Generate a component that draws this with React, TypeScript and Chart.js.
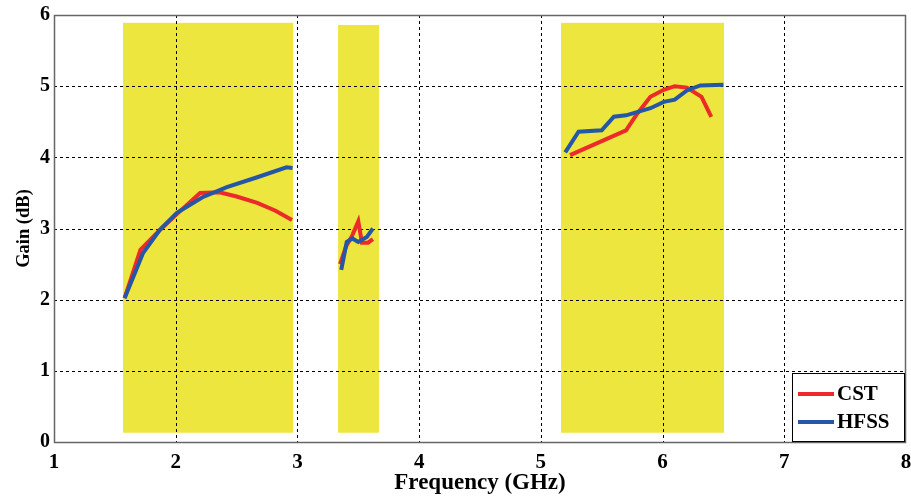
import React, { useEffect, useRef } from "react";
import { Chart, registerables } from "chart.js";
Chart.register(...registerables);

// Frequency (GHz) / Gain (dB) per band
const cstBand1F = [1.58, 1.71, 1.87, 2.02, 2.2, 2.36, 2.5, 2.67, 2.82, 2.955];
const cstBand1G = [2.02, 2.7, 2.98, 3.22, 3.5, 3.51, 3.45, 3.36, 3.25, 3.12];
const hfssBand1F = [1.58, 1.73, 1.87, 2.01, 2.22, 2.42, 2.67, 2.91, 2.96];
const hfssBand1G = [2.02, 2.65, 2.98, 3.22, 3.44, 3.58, 3.72, 3.86, 3.85];

const cstBand2F = [3.35, 3.4, 3.45, 3.5, 3.53, 3.58, 3.62];
const cstBand2G = [2.5, 2.75, 2.9, 3.1, 2.8, 2.8, 2.85];
const hfssBand2F = [3.36, 3.405, 3.45, 3.5, 3.57, 3.62];
const hfssBand2G = [2.42, 2.81, 2.86, 2.81, 2.88, 3.0];

const cstBand3F = [5.24, 5.7, 5.79, 5.9, 6.01, 6.1, 6.2, 6.32, 6.4];
const cstBand3G = [4.03, 4.38, 4.61, 4.85, 4.95, 5.0, 4.98, 4.85, 4.57];
const hfssBand3F = [5.2, 5.31, 5.5, 5.6, 5.7, 5.9, 6.01, 6.1, 6.2, 6.31, 6.5];
const hfssBand3G = [4.07, 4.36, 4.38, 4.57, 4.59, 4.69, 4.78, 4.81, 4.94, 5.01, 5.02];

// Highlighted bands: [start GHz, end GHz, top dB, bottom dB]
const bandStart = [1.567, 3.334, 5.166];
const bandEnd = [2.964, 3.67, 6.505];
const bandTop = [5.89, 5.86, 5.89];
const bandBottom = [0.13, 0.13, 0.13];

const seriesLabels = ["CST", "HFSS"];
const seriesColors = ["#ec2a2a", "#2457a5"];
const xTicks = [1, 2, 3, 4, 5, 6, 7, 8];
const yTicks = [0, 1, 2, 3, 4, 5, 6];

const FONT = "'Liberation Serif', 'Times New Roman', serif";

function joinBands(fs: number[][], gs: number[][]) {
  const out: { x: number; y: number | null }[] = [];
  fs.forEach((f, i) => {
    if (i > 0) out.push({ x: (f[0] + fs[i - 1][fs[i - 1].length - 1]) / 2, y: null });
    f.forEach((x, j) => out.push({ x, y: gs[i][j] }));
  });
  return out;
}

const bandsPlugin = {
  id: "bands",
  beforeDraw(chart: any) {
    const { ctx, scales } = chart;
    const xs = scales.x, ys = scales.y;
    ctx.save();
    ctx.fillStyle = "#ede63f";
    bandStart.forEach((s, i) => {
      const x0 = xs.getPixelForValue(s);
      const x1 = xs.getPixelForValue(bandEnd[i]);
      const y0 = ys.getPixelForValue(bandTop[i]);
      const y1 = ys.getPixelForValue(bandBottom[i]);
      ctx.fillRect(x0, y0, x1 - x0, y1 - y0);
    });
    ctx.restore();
  },
  beforeDatasetsDraw(chart: any) {
    const { ctx, scales, chartArea: a } = chart;
    ctx.save();
    ctx.strokeStyle = "#000";
    ctx.lineWidth = 1;
    ctx.setLineDash([3, 3]);
    xTicks.forEach((v) => {
      const x = Math.round(scales.x.getPixelForValue(v)) + 0.5;
      if (x <= a.left + 2 || x >= a.right - 2) return;
      ctx.beginPath();
      ctx.moveTo(x, a.top);
      ctx.lineTo(x, a.bottom);
      ctx.stroke();
    });
    yTicks.forEach((v) => {
      const y = Math.round(scales.y.getPixelForValue(v)) + 0.5;
      if (y <= a.top + 2 || y >= a.bottom - 2) return;
      ctx.beginPath();
      ctx.moveTo(a.left, y);
      ctx.lineTo(a.right, y);
      ctx.stroke();
    });
    ctx.restore();
  },
  afterDraw(chart: any) {
    const { ctx, chartArea: a } = chart;
    ctx.save();
    ctx.strokeStyle = "#666";
    ctx.lineWidth = 1.5;
    ctx.strokeRect(a.left + 0.5, a.top + 0.5, a.right - a.left - 1, a.bottom - a.top);
    // legend
    const w = 112, h = 68;
    const lx = a.right - w - 2, ly = a.bottom - h - 1;
    ctx.fillStyle = "#fff";
    ctx.fillRect(lx, ly, w, h);
    ctx.strokeStyle = "#000";
    ctx.lineWidth = 1;
    ctx.strokeRect(lx + 0.5, ly + 0.5, w, h);
    ctx.font = `bold 21px ${FONT}`;
    ctx.textBaseline = "middle";
    seriesLabels.forEach((lab, i) => {
      const yy = ly + 21 + i * 28;
      ctx.strokeStyle = seriesColors[i];
      ctx.lineWidth = 4;
      ctx.beginPath();
      ctx.moveTo(lx + 6, yy);
      ctx.lineTo(lx + 42, yy);
      ctx.stroke();
      ctx.fillStyle = "#000";
      ctx.fillText(lab, lx + 45, yy + 1);
    });
    ctx.restore();
  },
};

export default function App() {
  const ref = useRef<HTMLCanvasElement>(null);
  useEffect(() => {
    const chart = new Chart(ref.current!, {
      type: "line",
      data: {
        datasets: [
          {
            label: seriesLabels[0],
            data: joinBands([cstBand1F, cstBand2F, cstBand3F], [cstBand1G, cstBand2G, cstBand3G]),
            borderColor: seriesColors[0],
            borderWidth: 4,
            pointRadius: 0,
            spanGaps: false,
            order: 2,
          },
          {
            label: seriesLabels[1],
            data: joinBands([hfssBand1F, hfssBand2F, hfssBand3F], [hfssBand1G, hfssBand2G, hfssBand3G]),
            borderColor: seriesColors[1],
            borderWidth: 4,
            pointRadius: 0,
            spanGaps: false,
            order: 1,
          },
        ],
      },
      options: {
        animation: false,
        responsive: false,
        layout: { padding: { top: 15, right: 5, left: 0, bottom: 0 } },
        plugins: { legend: { display: false }, tooltip: { enabled: false } },
        scales: {
          x: {
            type: "linear",
            min: 1,
            max: 8,
            afterBuildTicks: (s: any) => { s.ticks = xTicks.map((v) => ({ value: v })); },
            afterFit: (s: any) => { s.height = 55; s.paddingRight = 0; s.paddingLeft = 0; },
            grid: { display: false, drawTicks: false },
            border: { display: false },
            ticks: { color: "#000", font: { family: FONT, size: 21, weight: "bold" }, padding: 8, maxRotation: 0 },
            title: { display: true, text: "Frequency (GHz)", color: "#000", font: { family: FONT, size: 23, weight: "bold" }, padding: 0 },
          },
          y: {
            min: 0,
            max: 6,
            afterBuildTicks: (s: any) => { s.ticks = yTicks.map((v) => ({ value: v })); },
            afterFit: (s: any) => { s.width = 54; s.paddingTop = 0; s.paddingBottom = 0; },
            grid: { display: false, drawTicks: false },
            border: { display: false },
            ticks: { color: "#000", font: { family: FONT, size: 20, weight: "bold" }, padding: 4 },
            title: { display: true, text: "Gain (dB)", color: "#000", font: { family: FONT, size: 18.5, weight: "bold" }, padding: { top: 13, bottom: 0 } },
          },
        },
      } as any,
      plugins: [bandsPlugin],
    });
    return () => chart.destroy();
  }, []);
  return (
    <div style={{ position: "fixed", left: 0, top: 0, width: 911, height: 497, background: "#fff" }}>
      <canvas ref={ref} width={911} height={497} />
    </div>
  );
}
